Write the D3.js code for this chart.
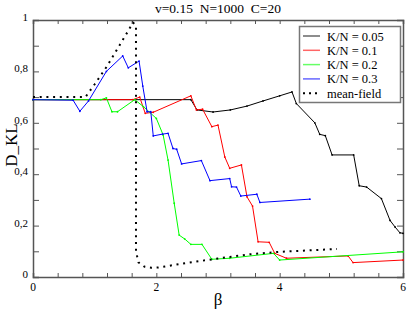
<!DOCTYPE html>
<html>
<head>
  <style>
  body { margin: 0; background: #fff; }
  text { font-family: "Liberation Serif", "Times New Roman", Times, "Nimbus Roman", "DejaVu Serif", serif; }
  </style>
</head>
<body>
  <script src="https://d3js.org/d3.v7.min.js"></script>
  <div id="chart"></div>
  <script>
    // data: [beta, D_KL]
    const k005 = [[0,0.69],[2.56,0.69],[2.66,0.65],[2.92,0.642],[3.2,0.65],[3.47,0.665],[3.73,0.685],[4.0,0.705],
      [4.2,0.72],[4.27,0.675],[4.57,0.60],[4.65,0.555],[4.74,0.55],[4.85,0.475],[5.2,0.475],[5.29,0.355],
      [5.41,0.35],[5.65,0.305],[5.79,0.22],[5.87,0.195],[5.95,0.172],[6.0,0.17]];
    const k01 = [[0,0.69],[1.62,0.69],[1.73,0.70],[1.82,0.637],[1.95,0.641],[2.56,0.705],[2.65,0.65],[2.75,0.653],
      [2.90,0.585],[3.0,0.591],[3.11,0.467],[3.19,0.423],[3.38,0.436],[3.47,0.312],[3.56,0.276],[3.65,0.137],
      [3.83,0.135],[3.92,0.092],[4.11,0.073],[5.11,0.082],[5.19,0.056],[6.0,0.066]];
    const k02 = [[0,0.69],[1.1,0.69],[1.19,0.697],[1.28,0.643],[1.37,0.643],[1.65,0.69],[1.79,0.663],[2.0,0.617],
      [2.11,0.553],[2.19,0.455],[2.29,0.287],[2.37,0.163],[2.46,0.148],[2.56,0.127],[2.74,0.127],[2.90,0.069],
      [3.19,0.073],[3.90,0.092],[4.0,0.066],[6.0,0.098]];
    const k03 = [[0,0.69],[0.65,0.688],[0.76,0.645],[0.90,0.685],[1.19,0.80],[1.455,0.86],[1.545,0.814],[1.72,0.84],
      [1.78,0.743],[1.85,0.643],[1.91,0.643],[1.95,0.549],[2.10,0.556],[2.19,0.559],[2.27,0.50],[2.33,0.497],
      [2.41,0.44],[2.73,0.453],[2.87,0.375],[3.19,0.383],[3.22,0.351],[3.30,0.35],[3.37,0.315],[3.63,0.322],
      [3.68,0.29],[4.49,0.303]];
    const meanField = [[0,0.70],[0.85,0.70],[1.0,0.75],[1.2,0.82],[1.4,0.90],[1.55,0.96],[1.62,0.99],[1.67,0.98],
      [1.67,0.10],[1.71,0.057],[1.81,0.04],[1.92,0.036],[2.03,0.037],[2.14,0.041],[2.5,0.055],[3.0,0.072],
      [3.5,0.088],[4.0,0.098],[4.93,0.109]];

    const series = [
      {name: 'K/N = 0.05', color: '#000000', values: k005},
      {name: 'K/N = 0.1', color: '#ff0000', values: k01},
      {name: 'K/N = 0.2', color: '#00ff00', values: k02},
      {name: 'K/N = 0.3', color: '#0000ff', values: k03}
    ];
    const xTicks = d3.range(0, 6.01, 0.4);
    const xLabels = [0, 2, 4, 6];
    const yTicks = d3.range(0, 1.01, 0.1);
    const yLabels = [0, 0.2, 0.4, 0.6, 0.8, 1];

    const width = 407, height = 310;
    const margin = {top: 20, left: 33, right: 4, bottom: 33};
    const svg = d3.select('#chart').append('svg')
      .attr('width', width)
      .attr('height', height);

    const x = d3.scaleLinear().domain([0, 6]).range([margin.left, width - margin.right]);
    const y = d3.scaleLinear().domain([0, 1]).range([height - margin.bottom, margin.top]);

    const fmt = d => d === 0 ? '0' : d === 1 ? '1' : d3.format('.1f')(d).replace('.', ',');

    // axes, ticks pointing inward on all four sides
    const axBottom = svg.append('g').attr('transform', `translate(0,${y(0)})`)
      .call(d3.axisTop(x).tickValues(xTicks).tickSize(4).tickFormat(''));
    const axTop = svg.append('g').attr('transform', `translate(0,${y(1)})`)
      .call(d3.axisBottom(x).tickValues(xTicks).tickSize(4).tickFormat(''));
    const axLeft = svg.append('g').attr('transform', `translate(${x(0)},0)`)
      .call(d3.axisRight(y).tickValues(yTicks).tickSize(6).tickFormat(''));
    const axRight = svg.append('g').attr('transform', `translate(${x(6)},0)`)
      .call(d3.axisLeft(y).tickValues(yTicks).tickSize(6).tickFormat(''));
    [axBottom, axTop, axLeft, axRight].forEach(g => {
      g.selectAll('path').attr('stroke', '#555').attr('stroke-width', 1.5);
      g.selectAll('line').attr('stroke', '#555').attr('stroke-width', 1);
    });

    svg.append('g').selectAll('text').data(xLabels).enter().append('text')
      .attr('x', d => x(d)).attr('y', y(0) + 14)
      .attr('text-anchor', 'middle').style('font-size', '11.5px')
      .text(d => d);
    svg.append('g').selectAll('text').data(yLabels).enter().append('text')
      .attr('x', x(0) - 5).attr('y', d => y(d) + 1)
      .attr('text-anchor', 'end').style('font-size', '11px')
      .text(fmt);

    // lines
    const line = d3.line().x(d => x(d[0])).y(d => y(d[1]));
    series.forEach(s => {
      svg.append('path').datum(s.values)
        .attr('d', line).attr('fill', 'none')
        .attr('stroke', s.color).attr('stroke-width', 1);
      svg.append('g').selectAll('circle').data(s.values).enter().append('circle')
        .attr('cx', d => x(d[0])).attr('cy', d => y(d[1])).attr('r', 0.9)
        .attr('fill', s.color);
    });
    svg.append('path').datum(meanField)
      .attr('d', line).attr('fill', 'none')
      .attr('stroke', '#000').attr('stroke-width', 2)
      .attr('stroke-dasharray', '2,4.7');

    // title and axis labels
    svg.append('text').attr('x', (x(0) + x(6)) / 2).attr('y', 13)
      .attr('xml:space', 'preserve')
      .attr('text-anchor', 'middle').style('font-size', '13.5px')
      .text('v=0.15  N=1000  C=20');
    svg.append('text').attr('x', (x(0) + x(6)) / 2).attr('y', 305)
      .attr('text-anchor', 'middle').style('font-size', '17px')
      .text('β');
    svg.append('text').attr('transform', 'translate(17,145) rotate(-90)')
      .attr('text-anchor', 'middle').style('font-size', '17px')
      .text('D_KL');

    // legend
    const legendItems = series.map(s => ({name: s.name, color: s.color, dash: null, w: 1.5}))
      .concat([{name: 'mean-field', color: '#000', dash: '2,4', w: 2}]);
    const lg = svg.append('g');
    lg.append('rect').attr('x', 299.5).attr('y', 26.5).attr('width', 101).attr('height', 76)
      .attr('fill', '#fff').attr('stroke', '#777').attr('stroke-width', 1.5);
    legendItems.forEach((d, i) => {
      const cy = 36 + i * 14.3;
      lg.append('line').attr('x1', 303).attr('x2', 320).attr('y1', cy).attr('y2', cy)
        .attr('stroke', d.color).attr('stroke-width', d.w).attr('stroke-opacity', d.dash ? 1 : 0.6)
        .attr('stroke-dasharray', d.dash);
      lg.append('text').attr('x', 327).attr('y', cy + 4.5)
        .style('font-size', '12.5px').text(d.name);
    });
  </script>
</body>
</html>
